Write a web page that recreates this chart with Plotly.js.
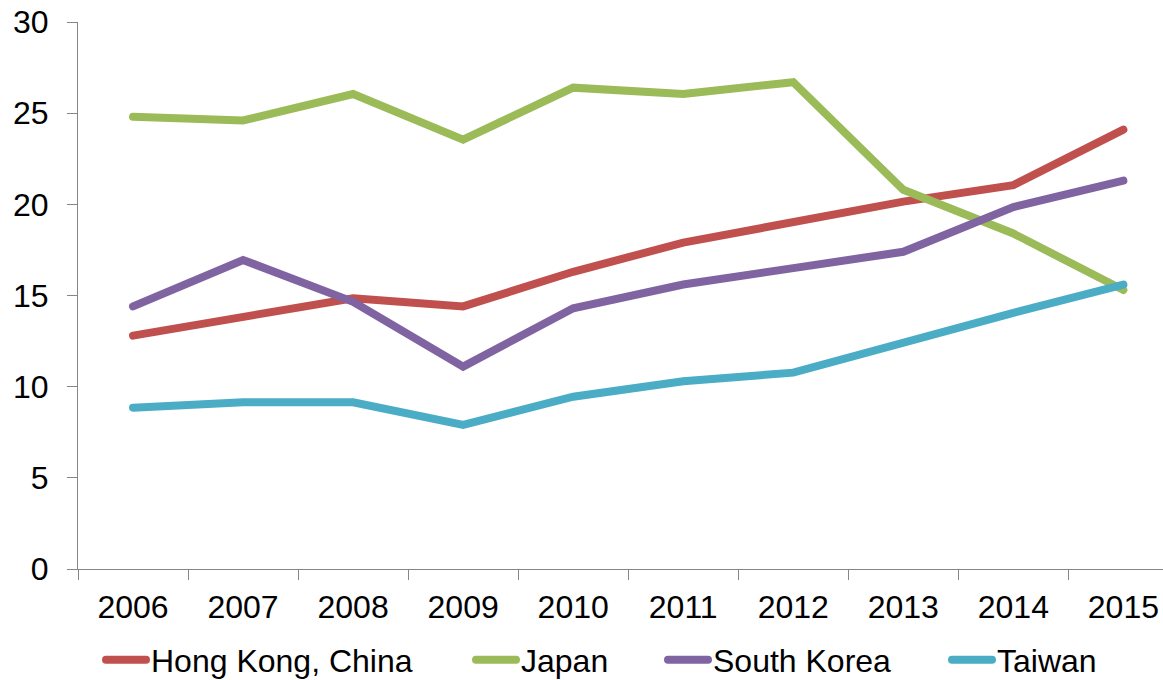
<!DOCTYPE html>
<html>
<head>
<meta charset="utf-8">
<script src="https://cdn.plot.ly/plotly-3.0.1.min.js"></script>
<style>
html,body{margin:0;padding:0;background:#fff;}
#chart{width:1163px;height:680px;}
#chart path.js-line, #chart .legendlines path{stroke-linecap:round;}
</style>
</head>
<body>
<div id="chart"></div>
<script>
var years = ['2006','2007','2008','2009','2010','2011','2012','2013','2014','2015'];
var hongKong = [12.8, 13.8, 14.85, 14.4, 16.3, 17.9, 19.0, 20.15, 21.05, 24.1];
var japan = [24.8, 24.6, 26.05, 23.55, 26.4, 26.05, 26.7, 20.8, 18.4, 15.3];
var southKorea = [14.4, 16.95, 14.65, 11.1, 14.3, 15.6, 16.5, 17.4, 19.85, 21.3];
var taiwan = [8.85, 9.14, 9.14, 7.9, 9.45, 10.3, 10.77, 12.45, 14.05, 15.6];

var seriesNames = ['Hong Kong, China', 'Japan', 'South Korea', 'Taiwan'];
var seriesValues = [hongKong, japan, southKorea, taiwan];
var colors = ['#C0504D', '#9BBB59', '#8064A2', '#4BACC6'];
var legendIds = ['legend', 'legend2', 'legend3', 'legend4'];
var legendLeft = [101, 471, 663, 947];

var traces = seriesValues.map(function(v, i) {
  return {
    x: years, y: v, name: seriesNames[i], type: 'scatter', mode: 'lines',
    line: {color: colors[i], width: 8, shape: 'linear'},
    legend: legendIds[i],
    hoverinfo: 'x+y+name'
  };
});

var font = {family: 'Liberation Sans, Arial, sans-serif', size: 32, color: '#000'};
var layout = {
  width: 1163, height: 680,
  paper_bgcolor: '#fff', plot_bgcolor: '#fff',
  margin: {l: 78, r: 0, t: 22, b: 111},
  font: font,
  showlegend: true,
  xaxis: {type: 'category', range: [-0.5, 9.36], tickson: 'boundaries',
          ticks: 'outside', ticklen: 10, tickcolor: '#868686', tickwidth: 1,
          showline: true, linecolor: '#868686', linewidth: 1, showgrid: false,
          zeroline: false, tickfont: font, ticklabelstandoff: 10},
  yaxis: {range: [0, 30], dtick: 5, tick0: 0, ticks: 'outside', ticklen: 10,
          tickcolor: '#868686', tickwidth: 1, showline: true, linecolor: '#868686',
          linewidth: 1, showgrid: false, zeroline: false, tickfont: font,
          ticklabelstandoff: 12}
};
legendIds.forEach(function(id, i) {
  layout[id] = {orientation: 'h', xref: 'container', yref: 'container',
    x: legendLeft[i] / 1163, xanchor: 'left', y: 20 / 680, yanchor: 'middle',
    font: font, itemwidth: 40, borderwidth: 0, bgcolor: 'rgba(0,0,0,0)'};
});

Plotly.newPlot('chart', traces, layout, {displayModeBar: false, staticPlot: true});
</script>
</body>
</html>
